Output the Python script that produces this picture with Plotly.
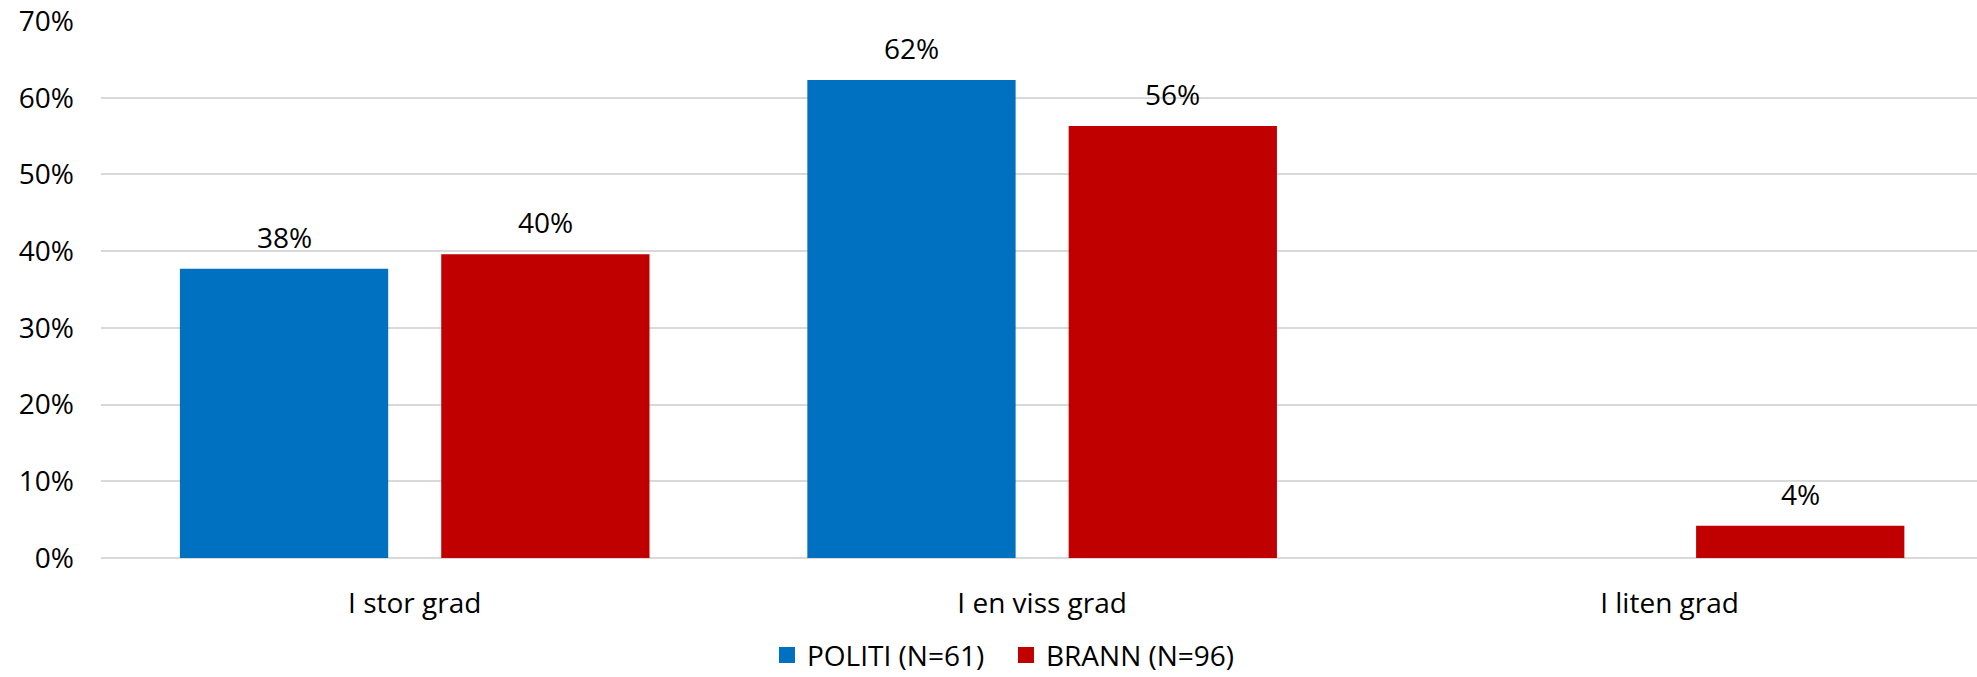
import plotly.graph_objects as go

# Survey answers, share of respondents (%)
categories = ["I stor grad", "I en viss grad", "I liten grad"]
politi_values = [37.7, 62.3, None]
brann_values = [39.6, 56.3, 4.2]
series_names = ["POLITI (N=61)", "BRANN (N=96)"]
series_colors = ["#0070C0", "#C00000"]

FONT = dict(family="Open Sans, Lato, sans-serif", size=28, color="#000000")
BARGAP = 0.167
BARGROUPGAP = 0.203

fig = go.Figure()
series = [politi_values, brann_values]
for name, vals, color in zip(series_names, series, series_colors):
    fig.add_trace(go.Bar(
        x=categories, y=vals, name=name,
        marker=dict(color=color, line=dict(width=0)),
        showlegend=False, hoverinfo="skip",
    ))
    # square legend swatch
    fig.add_trace(go.Scatter(
        x=[None], y=[None], mode="markers", name=name,
        marker=dict(symbol="square", size=16, color=color),
    ))

# value labels above each bar, centred on its slot within the group
n = len(series)
for j, vals in enumerate(series):
    offset = ((j + 0.5) / n - 0.5) * (1 - BARGAP)
    for i, v in enumerate(vals):
        if v is None:
            continue
        fig.add_annotation(
            x=i + offset, y=v, xref="x", yref="y",
            text=f"{v:.0f}%", showarrow=False,
            yanchor="bottom", yshift=11, font=FONT,
        )

fig.update_layout(
    width=1977, height=677,
    margin=dict(l=101, r=0, t=21, b=119),
    paper_bgcolor="white", plot_bgcolor="white",
    font=FONT,
    barmode="group", bargap=BARGAP, bargroupgap=BARGROUPGAP,
    legend=dict(
        orientation="h", xref="paper", x=0.355, xanchor="left",
        yref="container", y=0.032, yanchor="middle",
        entrywidth=194,
        font=FONT, bgcolor="rgba(0,0,0,0)",
    ),
)
fig.update_xaxes(
    type="category", range=[-0.5, 2.49],
    showgrid=False, showline=False, zeroline=False,
    ticks="", ticklabelstandoff=26, tickfont=FONT,
)
fig.update_yaxes(
    range=[0, 70], dtick=10, ticksuffix="%",
    showgrid=True, gridcolor="#D9D9D9", gridwidth=2,
    zeroline=True, zerolinecolor="#D9D9D9", zerolinewidth=2,
    showline=False, ticks="", ticklabelstandoff=26, tickfont=FONT,
)

fig.write_html("out.html")
